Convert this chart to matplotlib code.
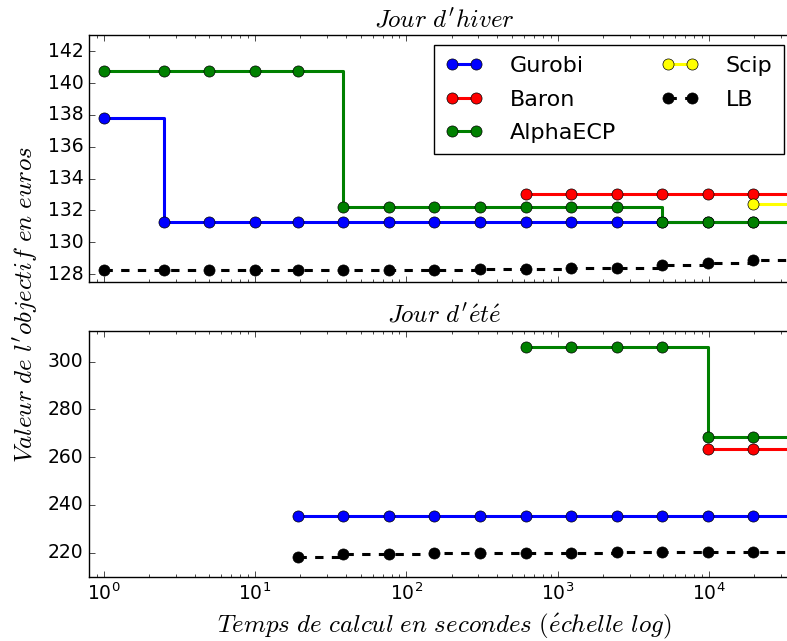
import matplotlib
matplotlib.use("Agg")
import matplotlib.pyplot as plt

plt.style.use('classic')
plt.rcParams['mathtext.fontset'] = 'cm'
plt.rcParams['figure.facecolor'] = 'white'
plt.rcParams['savefig.facecolor'] = 'white'

# temps de calcul (s), dernier point hors du cadre pour prolonger les paliers
temps = [1, 2.5, 5, 10, 19.2, 38.4, 76.8, 153.6, 307.2, 614.4, 1228.8,
         2457.6, 4915.2, 9830.4, 19660.8, 39321.6]

# Jour d'hiver
gurobi_h = [137.8, 131.3, 131.3, 131.3, 131.3, 131.3, 131.3, 131.3, 131.3,
            131.3, 131.3, 131.3, 131.3, 131.3, 131.3, 131.3]
baron_h = [133.0, 133.0, 133.0, 133.0, 133.0, 133.0, 133.0]
alpha_h = [140.75, 140.75, 140.75, 140.75, 140.75, 132.23, 132.23, 132.23,
           132.23, 132.23, 132.23, 132.23, 131.3, 131.3, 131.3, 131.3]
scip_h = [132.4, 132.4]
lb_h = [128.27, 128.27, 128.27, 128.27, 128.27, 128.27, 128.27, 128.27,
        128.3, 128.35, 128.37, 128.4, 128.54, 128.69, 128.88, 128.88]

# Jour d'ete
gurobi_e = [235.4, 235.4, 235.4, 235.4, 235.4, 235.4, 235.4, 235.4, 235.4,
            235.4, 235.4, 235.4]
baron_e = [263.6, 263.6, 263.6]
alpha_e = [306.0, 306.0, 306.0, 306.0, 268.4, 268.4, 268.4]
lb_e = [218.2, 219.6, 219.6, 219.7, 219.7, 219.7, 219.7, 220.3, 220.4,
        220.3, 220.3, 220.3]

fig = plt.figure(figsize=(7.87, 6.41), dpi=100)
ax1 = fig.add_axes([0.113, 0.560, 0.9035, 0.385])
ax2 = fig.add_axes([0.113, 0.100, 0.9035, 0.384], sharex=ax1)

style = dict(drawstyle='steps-post', marker='o', markersize=8, linewidth=2.2)

ax1.plot(temps, gurobi_h, color='b', label='Gurobi', **style)
ax1.plot(temps[9:], baron_h, color='r', label='Baron', **style)
ax1.plot(temps, alpha_h, color='g', label='AlphaECP', **style)
ax1.plot(temps[14:], scip_h, color='yellow', label='Scip', **style)
ax1.plot(temps, lb_h, color='k', linestyle='--', label='LB', **style)

ax2.plot(temps[4:], gurobi_e, color='b', **style)
ax2.plot(temps[13:], baron_e, color='r', **style)
ax2.plot(temps[9:], alpha_e, color='g', **style)
ax2.plot(temps[4:], lb_e, color='k', linestyle='--', **style)

for ax in (ax1, ax2):
    ax.set_xscale('log')
    ax.tick_params(labelsize=13.5)
ax1.set_xlim(0.8, 40000)
ax1.set_ylim(127.5, 143)
ax1.set_yticks([128, 130, 132, 134, 136, 138, 140, 142])
ax2.set_ylim(209.8, 313)
ax2.set_yticks([220, 240, 260, 280, 300])
plt.setp(ax1.get_xticklabels(), visible=False)

ax1.set_title(r"$Jour\ d'hiver$", fontsize=18, pad=6)
ax2.set_title(r"$Jour\ d'\acute{e}t\acute{e}$", fontsize=18, pad=6)
ax2.set_xlabel(r"$Temps\ de\ calcul\ en\ secondes\ (\acute{e}chelle\ log)$",
               fontsize=18, labelpad=6)
fig.text(0.032, 0.524, r"$Valeur\ de\ l'objectif\ en\ euros$", fontsize=18,
         rotation=90, ha='center', va='center')

ax1.legend(loc='upper right', bbox_to_anchor=(0.977, 0.96), borderaxespad=0,
           ncol=2, numpoints=2, fontsize=16, handlelength=1.7,
           handletextpad=1.2, columnspacing=2.05, labelspacing=0.6,
           borderpad=0.5)

fig.savefig('out.png', dpi=100)
